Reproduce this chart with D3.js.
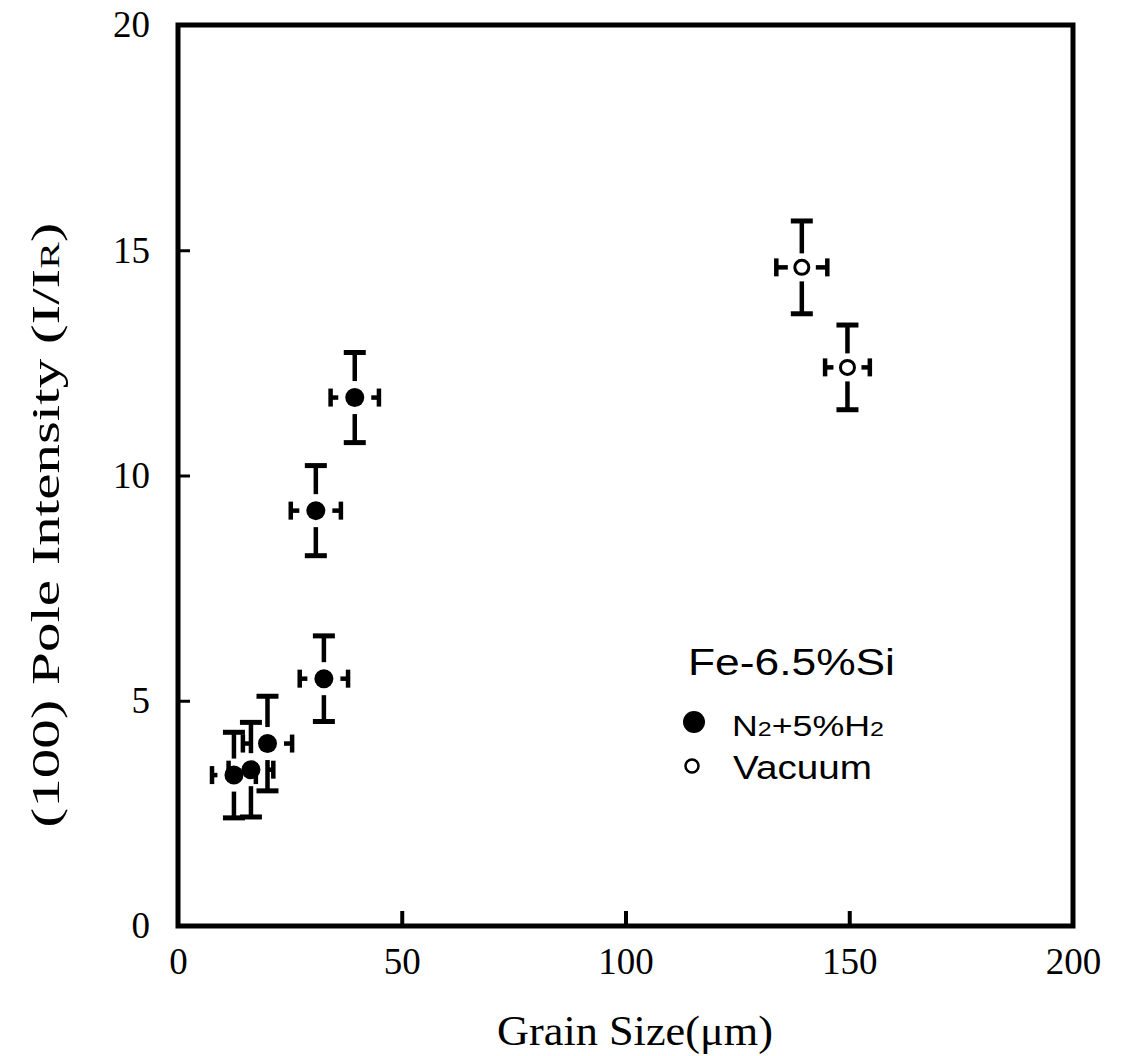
<!DOCTYPE html>
<html>
<head>
<meta charset="utf-8">
<script src="https://cdn.jsdelivr.net/npm/d3@7"></script>
<style>
  html, body { margin: 0; padding: 0; background: #fff; }
  svg { display: block; }
</style>
</head>
<body>
<svg id="chart" width="1127" height="1056"></svg>
<script>
// ---- data ----
const xTicks = [0, 50, 100, 150, 200];
const yTicks = [0, 5, 10, 15, 20];

const filledX    = [12.5, 16.3, 20.0, 32.6, 30.8, 39.5];
const filledY    = [3.35, 3.47, 4.05, 5.49, 9.22, 11.73];
const filledXErr = [4.9, 5.0, 5.5, 5.4, 5.6, 5.4];
const filledYErr = [0.95, 1.05, 1.05, 0.95, 1.0, 1.0];

const openX    = [139.4, 149.6];
const openY    = [14.62, 12.4];
const openXErr = [5.7, 5.0];
const openYErr = [1.03, 0.94];

const xTitle = "Grain Size(\u03bcm)";
const legendTitle = "Fe-6.5%Si";

// ---- layout ----
const svg = d3.select("#chart");
const x = d3.scaleLinear().domain([0, 200]).range([178, 1073]);
const y = d3.scaleLinear().domain([0, 20]).range([926, 25]);
const serif = "'Liberation Serif', 'Times New Roman', serif";
const sans = "'Liberation Sans', Arial, sans-serif";

// frame
svg.append("rect")
  .attr("x", x(0)).attr("y", y(20))
  .attr("width", x(200) - x(0)).attr("height", y(0) - y(20))
  .attr("fill", "none").attr("stroke", "#000").attr("stroke-width", 5);

// x axis (inward ticks)
const xAxis = d3.axisBottom(x).tickValues(xTicks).tickSizeInner(-15).tickSizeOuter(0).tickPadding(22);
const gx = svg.append("g").attr("transform", `translate(0,${y(0)})`).call(xAxis);
gx.select(".domain").remove();
gx.selectAll(".tick line").attr("stroke", "#000").attr("stroke-width", 4)
  .attr("display", d => (d === 0 || d === 200) ? "none" : null);
gx.selectAll(".tick text").attr("font-family", serif).attr("font-size", 37).attr("fill", "#000");

// y axis
const yAxis = d3.axisLeft(y).tickValues(yTicks).tickSizeInner(-12).tickSizeOuter(0).tickPadding(28);
const gy = svg.append("g").attr("transform", `translate(${x(0)},0)`).call(yAxis);
gy.select(".domain").remove();
gy.selectAll(".tick line").attr("stroke", "#000").attr("stroke-width", 3)
  .attr("display", d => (d === 0 || d === 20) ? "none" : null);
gy.selectAll(".tick text").attr("font-family", serif).attr("font-size", 37).attr("fill", "#000");

// axis titles
function fitText(sel, target) {
  const w = sel.node().getComputedTextLength();
  return target / w;
}
const xt = svg.append("text")
  .attr("font-family", serif).attr("font-size", 43).attr("text-anchor", "middle")
  .text(xTitle);
const sxX = fitText(xt, 276);
xt.attr("transform", `translate(635,1045) scale(${sxX},1)`);

const yt = svg.append("text")
  .attr("font-family", serif).attr("font-size", 40).attr("text-anchor", "middle");
yt.append("tspan").text("(100) Pole Intensity (I/I");
yt.append("tspan").attr("font-size", 27).text("R");
yt.append("tspan").text(")");
const sxY = fitText(yt, 605);
yt.attr("transform", `translate(59,525) rotate(-90) scale(${sxY},1)`);

// error bars + markers
function drawPoints(xs, ys, xe, ye, r, filled) {
  const data = xs.map((v, i) => ({x: v, y: ys[i], xe: xe[i], ye: ye[i]}));
  const g = svg.append("g");
  const gap = r + 7;
  data.forEach(d => {
    const cx = x(d.x), cy = y(d.y);
    const top = y(d.y + d.ye), bot = y(d.y - d.ye);
    const left = x(d.x - d.xe), right = x(d.x + d.xe);
    g.append("line").attr("x1", cx).attr("x2", cx).attr("y1", top).attr("y2", cy - gap)
      .attr("stroke", "#000").attr("stroke-width", 4.5);
    g.append("line").attr("x1", cx).attr("x2", cx).attr("y1", cy + gap).attr("y2", bot)
      .attr("stroke", "#000").attr("stroke-width", 4.5);
    g.append("line").attr("x1", cx - 11).attr("x2", cx + 11).attr("y1", top).attr("y2", top)
      .attr("stroke", "#000").attr("stroke-width", 5);
    g.append("line").attr("x1", cx - 11).attr("x2", cx + 11).attr("y1", bot).attr("y2", bot)
      .attr("stroke", "#000").attr("stroke-width", 5);
    if (left < cx - gap) g.append("line").attr("x1", left).attr("x2", cx - gap).attr("y1", cy).attr("y2", cy)
      .attr("stroke", "#000").attr("stroke-width", 4.5);
    if (right > cx + gap) g.append("line").attr("x1", cx + gap).attr("x2", right).attr("y1", cy).attr("y2", cy)
      .attr("stroke", "#000").attr("stroke-width", 4.5);
    g.append("line").attr("x1", left).attr("x2", left).attr("y1", cy - 9).attr("y2", cy + 9)
      .attr("stroke", "#000").attr("stroke-width", 4.5);
    g.append("line").attr("x1", right).attr("x2", right).attr("y1", cy - 9).attr("y2", cy + 9)
      .attr("stroke", "#000").attr("stroke-width", 4.5);
    g.append("circle").attr("cx", cx).attr("cy", cy).attr("r", r)
      .attr("fill", filled ? "#000" : "#fff")
      .attr("stroke", "#000").attr("stroke-width", filled ? 0 : 3);
  });
}
drawPoints(filledX, filledY, filledXErr, filledYErr, 9.5, true);
drawPoints(openX, openY, openXErr, openYErr, 7, false);

// legend
const lt = svg.append("text").attr("font-family", sans).attr("font-size", 37).text(legendTitle);
lt.attr("transform", `translate(688,675) scale(${fitText(lt, 207)},1)`);

svg.append("circle").attr("cx", 694).attr("cy", 722).attr("r", 11).attr("fill", "#000");
const l1 = svg.append("text").attr("font-family", sans).attr("font-size", 30);
l1.append("tspan").text("N");
l1.append("tspan").attr("font-size", 21).text("2");
l1.append("tspan").text("+5%H");
l1.append("tspan").attr("font-size", 21).text("2");
l1.attr("transform", `translate(732,736) scale(${fitText(l1, 152)},1)`);

svg.append("circle").attr("cx", 692).attr("cy", 766).attr("r", 6.5).attr("fill", "#fff")
  .attr("stroke", "#000").attr("stroke-width", 2.5);
const l2 = svg.append("text").attr("font-family", sans).attr("font-size", 33).text("Vacuum");
l2.attr("transform", `translate(733,779) scale(${fitText(l2, 139)},1)`);
</script>
</body>
</html>
